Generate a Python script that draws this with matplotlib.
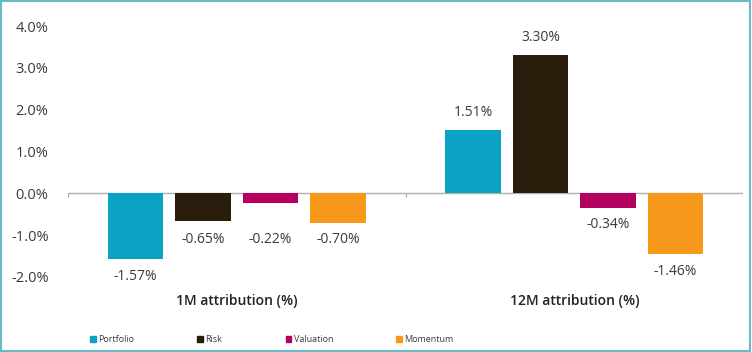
import numpy as np
import matplotlib
matplotlib.use("Agg")
import matplotlib.pyplot as plt
from matplotlib.patches import Patch, Rectangle

plt.rcParams['font.family'] = ['Open Sans', 'DejaVu Sans']

# data
groups = ['1M attribution (%)', '12M attribution (%)']
series = ['Portfolio', 'Risk', 'Valuation', 'Momentum']
colors = ['#0ba3c3', '#2b1d0b', '#b4005e', '#f6991b']
values = np.array([[-1.57, -0.65, -0.22, -0.70],
                   [1.51, 3.30, -0.34, -1.46]])
# where the value labels hang (the small 1M ones sit on one row)
label_at = np.array([[-1.57, -0.70, -0.70, -0.70],
                     [1.51, 3.30, -0.34, -1.46]])
yticks = [-2, -1, 0, 1, 2, 3, 4]

fig = plt.figure(figsize=(7.52, 3.52), dpi=100)
ax = fig.add_axes([68/752, 1-277/352, 675/752, 251/352])

ind = np.arange(len(groups))
step = 0.2
width = 0.163
txt = '#3a3a3a'

for j, name in enumerate(series):
    x = ind + (j - 1.5) * step
    ax.bar(x, values[:, j], width, color=colors[j], linewidth=0, zorder=2)
    for i in range(len(groups)):
        v = values[i, j]
        off = 12.5 if v >= 0 else -12.5
        ax.annotate('%.2f%%' % v, (x[i], label_at[i, j]), xytext=(0, off),
                    textcoords='offset points', ha='center', va='center',
                    fontsize=10, color=txt)

# zero line with category ticks
ax.axhline(0, color='#b0b0b0', lw=1, zorder=1)
ax.vlines([-0.5, 0.5, 1.5], -0.08, 0, color='#b0b0b0', lw=1)

ax.set_xlim(-0.5, 1.5)
ax.set_ylim(-2, 4)
ax.set_yticks(yticks)
ax.set_yticklabels(['%.1f%%' % t for t in yticks], fontsize=10.5, color=txt)
ax.set_xticks(ind)
ax.set_xticklabels(groups, fontsize=10, fontweight='semibold', color='#222222')
ax.tick_params(axis='both', length=0)
ax.tick_params(axis='y', pad=14)
ax.tick_params(axis='x', pad=12)
for s in ax.spines.values():
    s.set_visible(False)

handles = [Patch(color=c) for c in colors]
fig.legend(handles, series, loc='center left', bbox_to_anchor=(82/752, 1-340/352),
           ncol=4, frameon=False, fontsize=6.5, handlelength=0.6, handleheight=0.6,
           handletextpad=0.3, columnspacing=7.0, labelcolor=txt)

# thin frame round the picture
fig.patches.append(Rectangle((0.001, 0.002), 0.997, 0.995, transform=fig.transFigure,
                             fill=False, edgecolor='#6ab9c9', lw=1.5))

plt.savefig('out.png', dpi=100)
